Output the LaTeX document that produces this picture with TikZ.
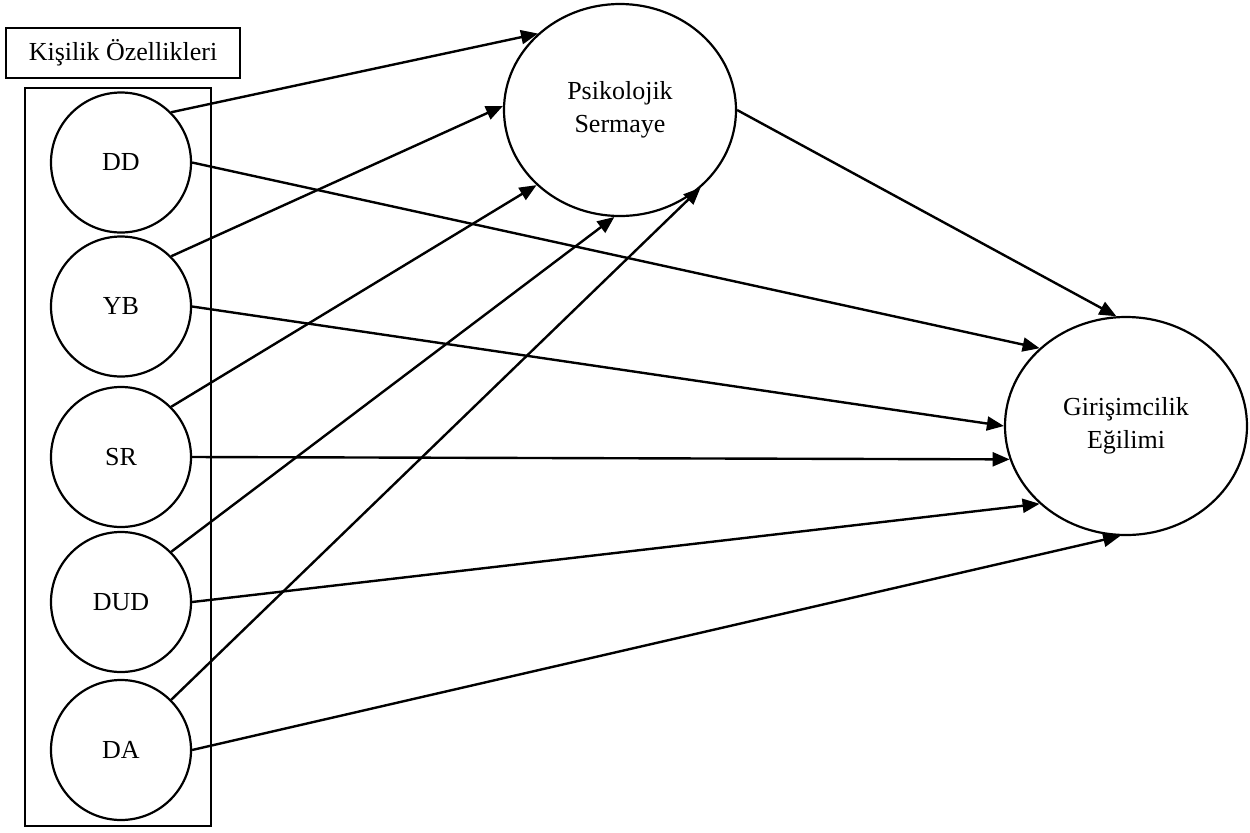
\documentclass[tikz,border=0pt]{standalone}
\usepackage{fontspec}
\setmainfont{Liberation Serif}
\usetikzlibrary{shapes.geometric,arrows.meta}
\begin{document}
\begin{tikzpicture}[x=0.5pt,y=-0.5pt,
  every node/.style={font=\fontsize{13}{16.5}\selectfont},
  trait/.style={circle,draw,line width=1.1pt,minimum size=70pt,inner sep=0pt},
  latent/.style={ellipse,draw,line width=1.1pt,inner sep=0pt,align=center},
  link/.style={line width=1.2pt,-{Triangle[length=8.5pt,width=7pt]}},
  framebox/.style={draw,inner sep=0pt},
]
\useasboundingbox (0,0) rectangle (1250,832);

\node[framebox,line width=0.6pt,minimum width=117pt,minimum height=25pt] (label) at (123,53) {Kişilik Özellikleri};
\node[framebox,line width=1.1pt,minimum width=93pt,minimum height=369pt] (group) at (118,457) {};

\node[trait] (dd) at (121,162.5) {DD};
\node[trait] (yb) at (121,306.5) {YB};
\node[trait] (sr) at (121,457) {SR};
\node[trait] (dud) at (121,602) {DUD};
\node[trait] (da) at (121,750) {DA};

\node[latent,minimum width=116pt,minimum height=106pt] (ps) at (620,110) {Psikolojik\\Sermaye};
\node[latent,minimum width=121pt,minimum height=109pt] (ge) at (1126,426) {Girişimcilik\\Eğilimi};

\draw[link] (dd.45) -- (ps.137.5);
\draw[link] (yb.45) -- (ps.178);
\draw[link] (sr.45) -- (ps.222.5);
\draw[link] (dud.45) -- (ps.267);
\draw[link] (da.45) -- (ps.316);

\draw[link] (dd.east) -- (ge.138.4);
\draw[link] (yb.east) -- (ge.180);
\draw[link] (sr.east) -- (ge.196);
\draw[link] (dud.east) -- (ge.222);
\draw[link] (da.east) -- (ge.267);

\draw[link] (ps.east) -- (ge.95);
\end{tikzpicture}
\end{document}
